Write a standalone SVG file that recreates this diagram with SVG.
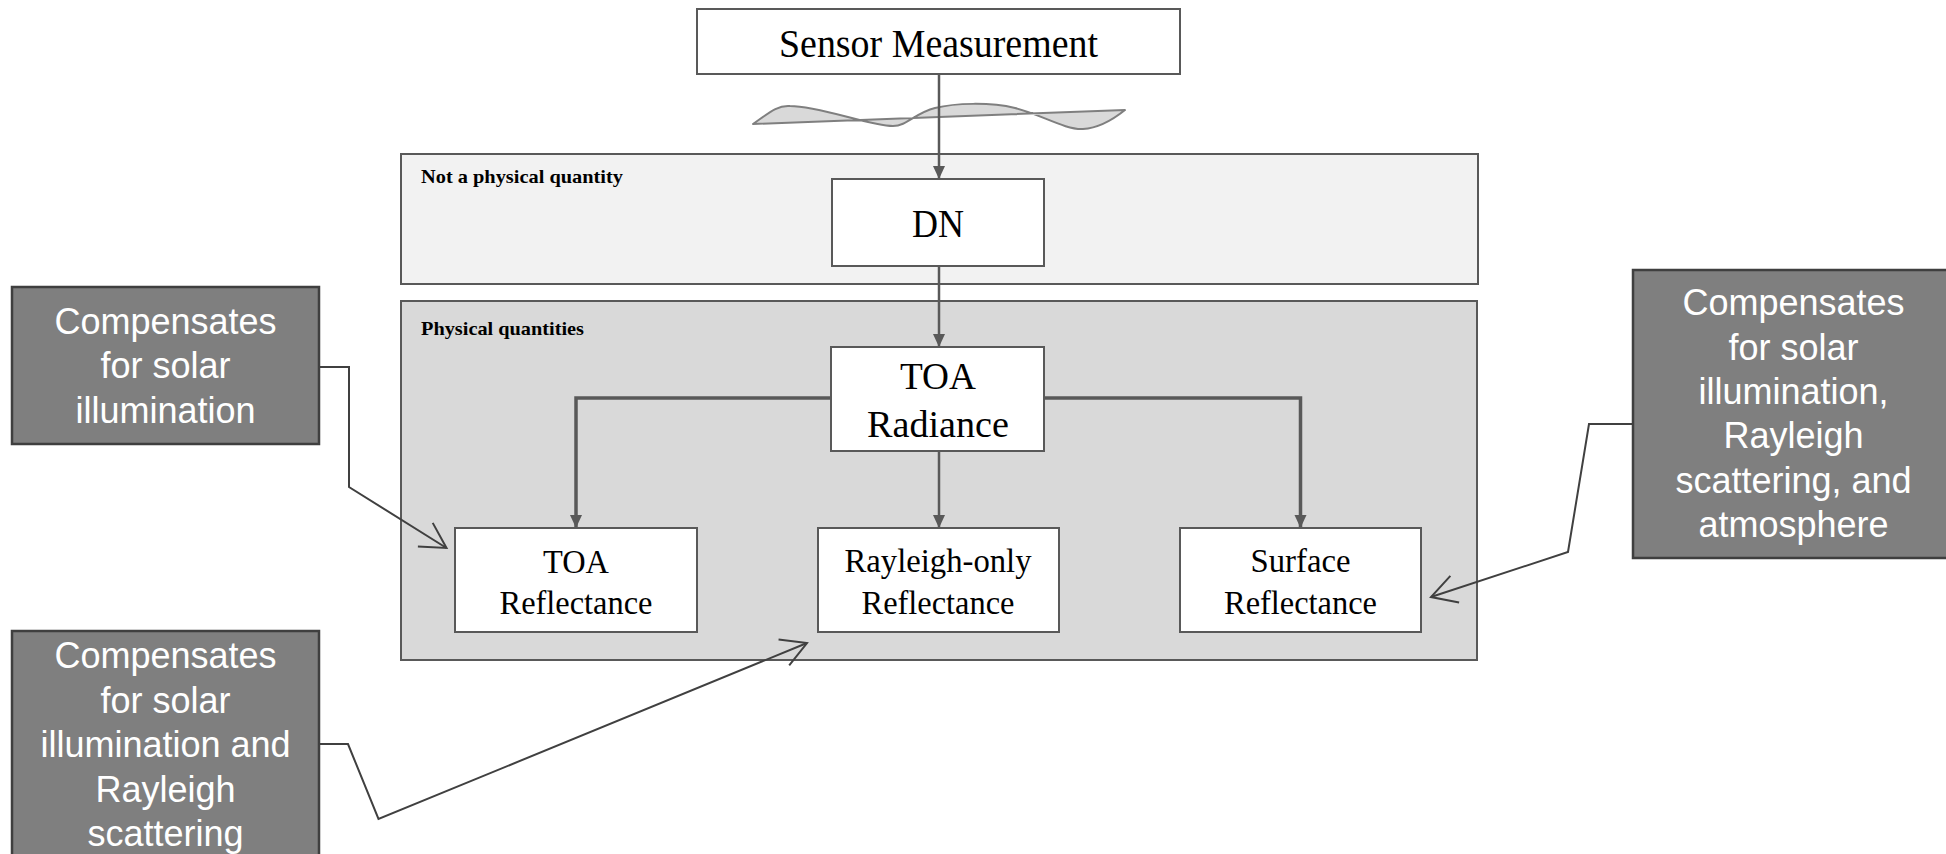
<svg xmlns="http://www.w3.org/2000/svg" width="1946" height="854" viewBox="0 0 1946 854">
<style>
.panel{stroke:#595959;stroke-width:2}
.node{fill:#ffffff;stroke:#595959;stroke-width:2}
.ntext{font-family:"Liberation Serif","Times New Roman",serif;fill:#000;text-anchor:middle}
.ptext{font-family:"Liberation Serif","Times New Roman",serif;font-weight:bold;fill:#000;font-size:19.5px}
.call{fill:#7f7f7f;stroke:#3f3f3f;stroke-width:2.5}
.ctext{font-family:"Liberation Sans",Arial,sans-serif;fill:#ffffff;font-size:36px;text-anchor:middle}
.flow{fill:none;stroke:#595959;stroke-width:2.5}
.branch{fill:none;stroke:#595959;stroke-width:3.5}
.callout{fill:none;stroke:#404040;stroke-width:2}
</style>
<defs>
<marker id="fa" markerUnits="userSpaceOnUse" orient="auto" overflow="visible" markerWidth="14" markerHeight="14">
<path d="M-13,-6 L0,0 L-13,6 Z" fill="#595959"/>
</marker>
<marker id="oa" markerUnits="userSpaceOnUse" orient="auto" overflow="visible" markerWidth="30" markerHeight="30">
<path d="M-25,-14 L0,0 L-25,14" fill="none" stroke="#404040" stroke-width="2"/>
</marker>
</defs>
<rect width="1946" height="854" fill="#ffffff"/>

<g id="panel-not-physical">
<rect class="panel" x="401" y="154" width="1077" height="130" fill="#f2f2f2"/>
<text class="ptext" x="421" y="183" textLength="202" lengthAdjust="spacingAndGlyphs">Not a physical quantity</text>
</g>
<g id="panel-physical">
<rect class="panel" x="401" y="301" width="1076" height="359" fill="#d9d9d9"/>
<text class="ptext" x="421" y="335" textLength="163" lengthAdjust="spacingAndGlyphs">Physical quantities</text>
</g>

<g id="wave">
<path d="M753,124 C770,112 778,105 790,106 C820,106 870,126 893,126 C907,126 915,113 935,108 C955,103 990,102 1015,108 C1040,114 1065,130 1083,129 C1100,128 1115,118 1125,110 Z" fill="#d9d9d9" stroke="#7f7f7f" stroke-width="2" stroke-linejoin="round"/>
</g>

<g id="connectors">
<path class="flow" d="M939,74 V179" marker-end="url(#fa)"/>
<path class="flow" d="M939,266 V347" marker-end="url(#fa)"/>
<path class="flow" d="M939,451 V528" marker-end="url(#fa)"/>
<path class="branch" d="M831,398 H576 V528" marker-end="url(#fa)"/>
<path class="branch" d="M1044,398 H1300.5 V528" marker-end="url(#fa)"/>
<path class="callout" d="M313,367 H349 V487 L446.5,548" marker-end="url(#oa)"/>
<path class="callout" d="M314,744 H348 L378.5,819 L807,643" marker-end="url(#oa)"/>
<path class="callout" d="M1635,424 H1589 L1568,552 L1431,597" marker-end="url(#oa)"/>
</g>

<g id="sensor-measurement">
<rect class="node" x="697" y="9" width="483" height="65"/>
<text class="ntext" x="938.5" y="57" font-size="40" textLength="319" lengthAdjust="spacingAndGlyphs">Sensor Measurement</text>
</g>
<g id="dn">
<rect class="node" x="832" y="179" width="212" height="87"/>
<text class="ntext" x="938" y="237" font-size="41" textLength="52" lengthAdjust="spacingAndGlyphs">DN</text>
</g>
<g id="toa-radiance">
<rect class="node" x="831" y="347" width="213" height="104"/>
<text class="ntext" x="938" y="389" font-size="38.5" textLength="76" lengthAdjust="spacingAndGlyphs">TOA</text>
<text class="ntext" x="938" y="437" font-size="38.5" textLength="142" lengthAdjust="spacingAndGlyphs">Radiance</text>
</g>
<g id="toa-reflectance">
<rect class="node" x="455" y="528" width="242" height="104"/>
<text class="ntext" x="576" y="573" font-size="34" textLength="66" lengthAdjust="spacingAndGlyphs">TOA</text>
<text class="ntext" x="576" y="614" font-size="34" textLength="153" lengthAdjust="spacingAndGlyphs">Reflectance</text>
</g>
<g id="rayleigh-reflectance">
<rect class="node" x="818" y="528" width="241" height="104"/>
<text class="ntext" x="938" y="572" font-size="34" textLength="187" lengthAdjust="spacingAndGlyphs">Rayleigh-only</text>
<text class="ntext" x="938" y="614" font-size="34" textLength="153" lengthAdjust="spacingAndGlyphs">Reflectance</text>
</g>
<g id="surface-reflectance">
<rect class="node" x="1180" y="528" width="241" height="104"/>
<text class="ntext" x="1300.5" y="572" font-size="34" textLength="100" lengthAdjust="spacingAndGlyphs">Surface</text>
<text class="ntext" x="1300.5" y="614" font-size="34" textLength="153" lengthAdjust="spacingAndGlyphs">Reflectance</text>
</g>

<g id="callout-solar">
<rect class="call" x="12" y="287" width="307" height="157"/>
<text class="ctext" x="165.5" y="333.5">Compensates</text>
<text class="ctext" x="165.5" y="378">for solar</text>
<text class="ctext" x="165.5" y="422.5">illumination</text>
</g>
<g id="callout-rayleigh">
<rect class="call" x="12" y="631" width="307" height="240"/>
<text class="ctext" x="165.5" y="668">Compensates</text>
<text class="ctext" x="165.5" y="712.5">for solar</text>
<text class="ctext" x="165.5" y="757">illumination and</text>
<text class="ctext" x="165.5" y="801.5">Rayleigh</text>
<text class="ctext" x="165.5" y="846">scattering</text>
</g>
<g id="callout-atmosphere">
<rect class="call" x="1633" y="270" width="322" height="288"/>
<text class="ctext" x="1793.5" y="315">Compensates</text>
<text class="ctext" x="1793.5" y="359.5">for solar</text>
<text class="ctext" x="1793.5" y="404">illumination,</text>
<text class="ctext" x="1793.5" y="448">Rayleigh</text>
<text class="ctext" x="1793.5" y="492.5">scattering, and</text>
<text class="ctext" x="1793.5" y="537">atmosphere</text>
</g>
</svg>
